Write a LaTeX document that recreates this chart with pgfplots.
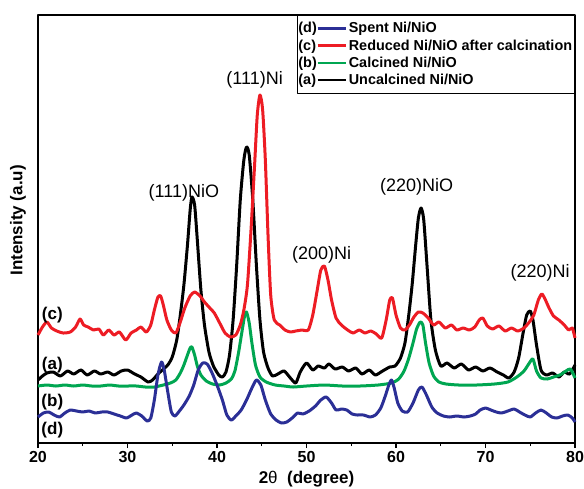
\documentclass[border=0pt]{standalone}
\usepackage{pgfplots}
\pgfplotsset{compat=1.18}
\usepackage{fontspec}
\setmainfont{Liberation Sans}
\definecolor{cblue}{RGB}{43,47,150}
\definecolor{cred}{RGB}{237,28,36}
\definecolor{cgreen}{RGB}{0,166,81}
\begin{document}
\begin{tikzpicture}
\begin{axis}[
  scale only axis, width=537pt, height=428pt,
  xmin=20, xmax=80, ymin=0, ymax=428,
  xtick={20,30,...,80}, minor xtick={25,35,...,75},
  xtick pos=bottom, tick align=outside,
  major tick length=5pt, minor tick length=3pt,
  ytick=\empty,
  /pgf/number format/assume math mode=true,
  xticklabel style={font=\bfseries\fontsize{16}{18}\selectfont},
  axis line style={line width=1.2pt},
  every tick/.style={line width=1.2pt, black},
  xlabel={2\textmd{θ}\ \ (degree)},
  ylabel={Intensity (a.u)},
  every axis x label/.style={at={(axis description cs:0.5,-0.058)}, anchor=north, font=\bfseries\fontsize{17}{19}\selectfont},
  every axis y label/.style={at={(axis description cs:-0.016,0.52)}, rotate=90, anchor=south, font=\bfseries\fontsize{17}{19}\selectfont},
  legend style={at={(rel axis cs:1,1)}, anchor=north east, draw=black, line width=0.8pt,
    font=\bfseries\fontsize{14.4}{16}\selectfont, row sep=3.3pt, inner xsep=1pt, inner ysep=6pt,
    nodes={inner xsep=1.5pt, inner ysep=1pt},
    /tikz/column sep=0pt},
  legend cell align=left,
  clip=false,
  line join=round,
]
% (a) Uncalcined
\addplot[black, line width=3pt, smooth, tension=0.4, forget plot] coordinates {
(20.0,63)(20.5,67)(21.0,70)(21.7,71)(22.5,67)(23.3,72)(24.0,69)(24.8,73)(25.5,68)(26.3,72)(27.0,69)(27.8,71)(28.5,68)(29.3,72)(30.0,73)(30.8,69)(31.5,66)(32.3,61)(32.8,63)(33.4,69)(33.9,73)(34.5,78)(35.0,86)(35.5,103)(35.9,128)(36.3,158)(36.7,198)(37.0,233)(37.2,246)(37.5,238)(37.8,203)(38.2,153)(38.6,118)(39.1,91)(39.6,77)(40.2,68)(40.6,66)(41.0,71)(41.4,88)(41.8,123)(42.2,178)(42.6,243)(43.0,283)(43.3,296)(43.6,288)(44.0,243)(44.4,178)(44.8,123)(45.2,91)(45.7,75)(46.2,67)(46.8,69)(47.5,72)(48.2,65)(48.8,60)(49.3,71)(50.0,80)(50.7,73)(51.3,77)(52.0,75)(52.5,79)(53.2,74)(54.0,76)(54.7,72)(55.5,75)(56.2,69)(57.0,73)(57.7,68)(58.5,72)(59.3,76)(59.9,77)(60.5,85)(61.0,100)(61.4,126)(61.8,158)(62.2,198)(62.5,225)(62.8,235)(63.1,223)(63.5,173)(63.9,123)(64.4,93)(65.0,77)(65.7,80)(66.5,75)(67.3,79)(68.1,73)(68.9,76)(69.7,72)(70.5,75)(71.3,71)(72.0,68)(72.6,65)(73.2,71)(73.7,85)(74.2,110)(74.6,128)(75.0,132)(75.3,123)(75.7,98)(76.2,73)(76.8,68)(77.5,70)(78.2,66)(78.8,71)(79.4,69)(80.0,78)
};
% (b) Calcined
\addplot[cgreen, line width=3pt, smooth, tension=0.4, forget plot] coordinates {
(20,57)(21,58)(22,57)(23,58)(24,57)(25,58)(26,57)(27,57)(28,58)(29,57)(30,57)(31,57)(32,56)(33,56)(34,58)(34.8,60)(35.4,63)(35.9,70)(36.3,78)(36.7,88)(37.0,95)(37.2,96)(37.5,88)(37.8,77)(38.2,68)(38.8,62)(39.5,59)(40.3,58)(41.0,60)(41.6,64)(42.0,72)(42.4,90)(42.8,112)(43.1,128)(43.3,131)(43.6,120)(43.9,100)(44.3,78)(44.8,66)(45.5,61)(46.5,58)(47.5,57)(48.5,56)(50,57)(52,58)(54,57)(56,57)(58,58)(59.5,60)(60.3,64)(60.9,72)(61.4,84)(61.9,100)(62.3,114)(62.7,121)(63.0,118)(63.3,100)(63.7,80)(64.2,67)(64.8,61)(65.6,59)(67,58)(69,58)(71,59)(72.5,61)(73.5,66)(74.3,72)(74.9,80)(75.3,84)(75.7,72)(76.2,65)(76.9,64)(77.6,66)(78.3,68)(79.0,72)(79.5,74)(80.0,65)
};
% (d) Spent
\addplot[cblue, line width=3pt, smooth, tension=0.4, forget plot] coordinates {
(20.0,26)(20.6,30)(21.2,31)(21.8,28)(22.4,26)(23.0,30)(23.6,33)(24.3,32)(25.0,31)(25.7,32)(26.4,30)(27.1,31)(27.8,31)(28.5,29)(29.2,27)(29.9,25)(30.5,28)(31.0,30)(31.6,27)(32.2,22)(32.6,25)(33.0,43)(33.4,68)(33.8,81)(34.1,73)(34.5,51)(34.9,31)(35.3,27)(35.8,32)(36.3,38)(36.9,47)(37.4,58)(37.9,73)(38.4,80)(38.9,79)(39.4,71)(40.0,58)(40.6,43)(41.1,28)(41.6,23)(42.1,27)(42.7,33)(43.3,43)(43.9,55)(44.4,63)(44.9,58)(45.4,43)(46.0,29)(46.6,23)(47.2,20)(47.8,21)(48.4,25)(49.0,30)(49.6,29)(50.3,32)(51.0,37)(51.6,43)(52.2,46)(52.8,40)(53.3,33)(53.9,34)(54.5,33)(55.1,29)(55.7,28)(56.4,28)(57.1,26)(57.7,28)(58.3,35)(58.8,47)(59.2,58)(59.5,63)(59.8,55)(60.2,40)(60.7,32)(61.3,31)(61.9,40)(62.5,53)(62.9,56)(63.4,48)(64.0,36)(64.6,30)(65.3,27)(66.0,26)(66.8,27)(67.6,26)(68.3,27)(68.9,29)(69.4,33)(70.0,35)(70.6,33)(71.2,31)(71.8,30)(72.5,32)(73.2,34)(73.8,31)(74.4,28)(75.0,26)(75.6,30)(76.2,33)(76.8,30)(77.4,26)(78.0,25)(78.6,27)(79.2,28)(79.7,25)(80.0,21)
};
% (c) Reduced
\addplot[cred, line width=3pt, smooth, tension=0.4, forget plot] coordinates {
(20.0,108)(20.5,116)(21.0,121)(21.5,115)(22.1,112)(22.8,110)(23.6,111)(24.2,116)(24.7,124)(25.1,118)(25.6,116)(26.2,113)(26.8,114)(27.3,108)(27.9,113)(28.5,108)(29.1,111)(29.8,103)(30.4,110)(31.0,113)(31.5,116)(32.1,111)(32.6,118)(33.0,133)(33.4,146)(33.7,147)(34.0,138)(34.4,123)(34.9,113)(35.4,110)(35.9,121)(36.4,135)(37.0,147)(37.5,151)(38.1,147)(38.6,141)(39.2,135)(39.7,130)(40.3,120)(40.9,110)(41.5,106)(42.1,108)(42.6,118)(43.0,133)(43.4,158)(43.8,213)(44.2,278)(44.5,328)(44.8,348)(45.1,333)(45.4,283)(45.7,208)(46.0,148)(46.4,123)(47.0,118)(47.6,113)(48.2,111)(48.8,112)(49.5,113)(50.2,113)(50.7,128)(51.2,153)(51.6,173)(52.0,177)(52.4,163)(52.8,143)(53.3,125)(53.9,118)(54.6,113)(55.2,110)(55.9,113)(56.5,110)(57.2,112)(57.8,109)(58.4,105)(58.9,123)(59.3,143)(59.6,145)(60.0,128)(60.5,115)(61.0,113)(61.5,118)(62.0,126)(62.5,131)(63.0,130)(63.6,125)(64.2,118)(64.8,121)(65.5,115)(66.2,118)(66.8,113)(67.5,115)(68.2,113)(68.8,116)(69.3,123)(69.7,125)(70.2,117)(70.8,114)(71.5,117)(72.2,112)(72.9,115)(73.6,112)(74.3,115)(74.9,121)(75.4,128)(75.9,143)(76.3,149)(76.7,143)(77.1,135)(77.6,127)(78.2,123)(78.8,118)(79.3,113)(79.7,115)(80.0,105)
};
% legend
\addlegendimage{legend image code/.code={\node[anchor=west,inner sep=0pt,font=\bfseries\fontsize{14.4}{16}\selectfont] at (0pt,0pt) {(d)}; \draw[cblue,line width=2.6pt] (19.5pt,0pt) -- (48pt,0pt);}}
\addlegendentry{Spent Ni/NiO}
\addlegendimage{legend image code/.code={\node[anchor=west,inner sep=0pt,font=\bfseries\fontsize{14.4}{16}\selectfont] at (0pt,0pt) {(c)}; \draw[cred,line width=2.6pt] (19.5pt,0pt) -- (48pt,0pt);}}
\addlegendentry{Reduced Ni/NiO after calcination}
\addlegendimage{legend image code/.code={\node[anchor=west,inner sep=0pt,font=\bfseries\fontsize{14.4}{16}\selectfont] at (0pt,0pt) {(b)}; \draw[cgreen,line width=2.6pt] (19.5pt,0pt) -- (48pt,0pt);}}
\addlegendentry{Calcined Ni/NiO}
\addlegendimage{legend image code/.code={\node[anchor=west,inner sep=0pt,font=\bfseries\fontsize{14.4}{16}\selectfont] at (0pt,0pt) {(a)}; \draw[black,line width=2.6pt] (19.5pt,0pt) -- (48pt,0pt);}}
\addlegendentry{Uncalcined Ni/NiO}
% peak annotations
\node[font=\fontsize{18}{20}\selectfont] at (axis cs:36.3,250) {(111)NiO};
\node[font=\fontsize{18}{20}\selectfont] at (axis cs:44.2,363) {(111)Ni};
\node[font=\fontsize{18}{20}\selectfont] at (axis cs:51.7,188) {(200)Ni};
\node[font=\fontsize{18}{20}\selectfont] at (axis cs:62.3,256) {(220)NiO};
\node[font=\fontsize{18}{20}\selectfont] at (axis cs:76.1,170) {(220)Ni};
% curve labels
\node[font=\bfseries\fontsize{17}{19}\selectfont] at (axis cs:21.6,128) {(c)};
\node[font=\bfseries\fontsize{17}{19}\selectfont] at (axis cs:21.6,78) {(a)};
\node[font=\bfseries\fontsize{17}{19}\selectfont] at (axis cs:21.6,41) {(b)};
\node[font=\bfseries\fontsize{17}{19}\selectfont] at (axis cs:21.6,13) {(d)};
\end{axis}
\pgfresetboundingbox
\path[use as bounding box] ([xshift=-38pt,yshift=-45pt]current axis.south west) rectangle ([xshift=9pt,yshift=15pt]current axis.north east);
\end{tikzpicture}
\end{document}
